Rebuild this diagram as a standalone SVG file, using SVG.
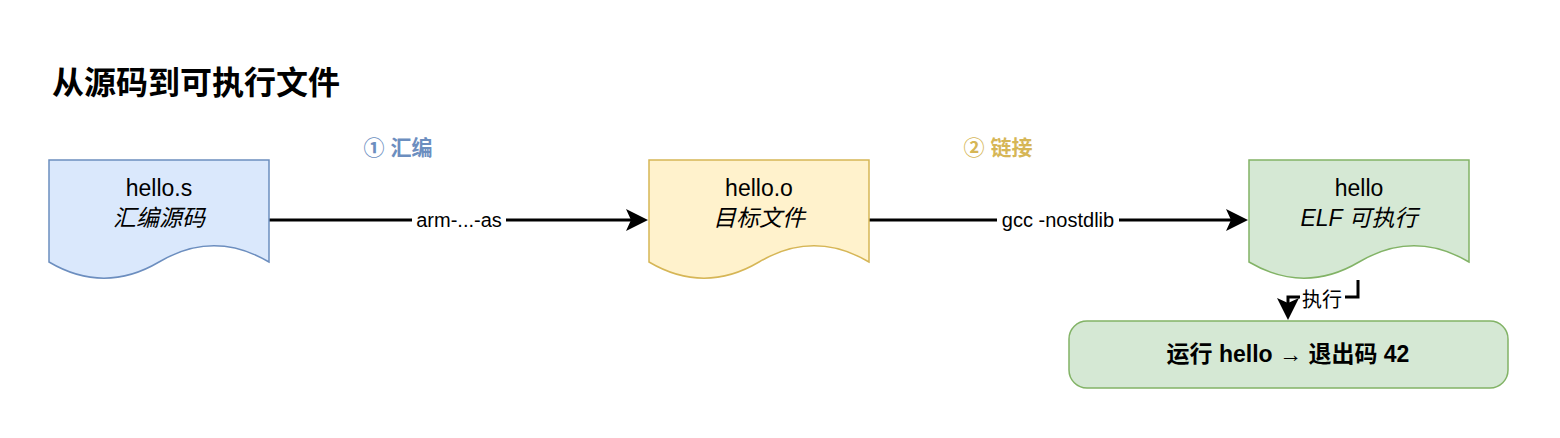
<svg xmlns="http://www.w3.org/2000/svg" width="1560" height="438" viewBox="0 0 1560 438">
<style>
text{font-family:"Liberation Sans","Noto Sans CJK SC",sans-serif;fill:#000}
.t{font-size:23px;text-anchor:middle}
.i{font-style:italic}
.e{stroke:#000;stroke-width:3;fill:none}
.l{font-size:20px;text-anchor:middle}
</style>
<defs>
<path id="doc" d="M0,0 H220 V102 Q165,69.6 110,102 Q55,134.4 0,102 Z"/>
</defs>
<rect width="1560" height="438" fill="#fff"/>
<text x="52" y="94" style="font-size:32px;font-weight:bold">从源码到可执行文件</text>
<text x="398" y="155" style="font-size:21px;font-weight:bold;fill:#6c8ebf" text-anchor="middle">① 汇编</text>
<text x="998" y="155" style="font-size:21px;font-weight:bold;fill:#d6b656" text-anchor="middle">② 链接</text>
<g id="connectors">
<line class="e" x1="269" y1="220" x2="640" y2="220"/>
<path d="M626,209 L648,220 L626,231 L631,220 Z"/>
<rect x="412" y="210" width="94" height="20" fill="#fff"/>
<text class="l" x="459" y="227">arm-...-as</text>
<line class="e" x1="869" y1="220" x2="1240" y2="220"/>
<path d="M1226,209 L1248,220 L1226,231 L1231,220 Z"/>
<rect x="997" y="210" width="122" height="20" fill="#fff"/>
<text class="l" x="1058" y="227">gcc -nostdlib</text>
<path class="e" d="M1358,280 V297 H1288 V312"/>
<path d="M1277,298 L1288,320 L1299,298 L1288,303 Z"/>
<rect x="1300" y="288" width="45" height="22" fill="#fff"/>
<text class="l" x="1322" y="307">执行</text>
</g>
<g id="n1"><use href="#doc" x="49" y="160" fill="#dae8fc" stroke="#6c8ebf" stroke-width="1.5"/>
<text class="t" x="159" y="196">hello.s</text><text class="t i" x="159" y="226">汇编源码</text></g>
<g id="n2"><use href="#doc" x="649" y="160" fill="#fff2cc" stroke="#d6b656" stroke-width="1.5"/>
<text class="t" x="759" y="196">hello.o</text><text class="t i" x="759" y="226">目标文件</text></g>
<g id="n3"><use href="#doc" x="1249" y="160" fill="#d5e8d4" stroke="#82b366" stroke-width="1.5"/>
<text class="t" x="1359" y="196">hello</text><text class="t i" x="1359" y="226">ELF 可执行</text></g>
<g id="n4"><rect x="1069" y="321" width="439" height="67" rx="18" fill="#d5e8d4" stroke="#82b366" stroke-width="1.5"/>
<text x="1288" y="362" style="font-size:23px;font-weight:bold" text-anchor="middle">运行 hello → 退出码 42</text></g>
</svg>
